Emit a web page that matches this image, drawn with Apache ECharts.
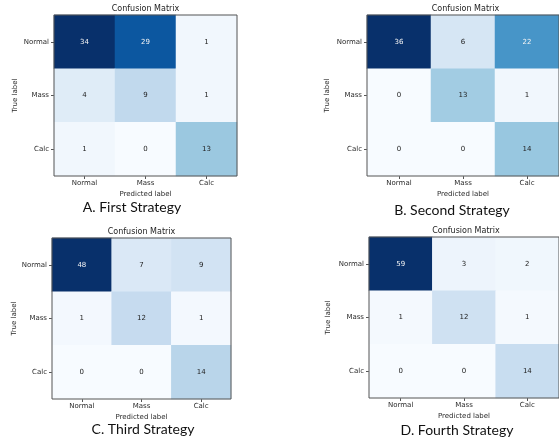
<!DOCTYPE html>
<html>
<head>
<meta charset="utf-8">
<script src="https://cdn.jsdelivr.net/npm/echarts@6/dist/echarts.min.js"></script>
<style>
  html, body { margin: 0; padding: 0; background: #fff; }
  #chart { width: 559px; height: 441px; }
</style>
</head>
<body>
<div id="chart"></div>
<script>
// Class labels (rows = true label, columns = predicted label)
const predictedLabels = ['Normal', 'Mass', 'Calc'];
const trueLabels = ['Normal', 'Mass', 'Calc'];

// Confusion matrices, one per training strategy (rows: true Normal, Mass, Calc)
const firstStrategy  = [[34, 29, 1], [4, 9, 1], [1, 0, 13]];
const secondStrategy = [[36, 6, 22], [0, 13, 1], [0, 0, 14]];
const thirdStrategy  = [[48, 7, 9], [1, 12, 1], [0, 0, 14]];
const fourthStrategy = [[59, 3, 2], [1, 12, 1], [0, 0, 14]];

const captions = ['A. First Strategy', 'B. Second Strategy', 'C. Third Strategy', 'D. Fourth Strategy'];
const matrices = [firstStrategy, secondStrategy, thirdStrategy, fourthStrategy];

// matplotlib "Blues" colormap stops
const blues = ['#f7fbff', '#deebf7', '#c6dbef', '#9ecae1', '#6baed6', '#4292c6', '#2171b5', '#08519c', '#08306b'];

// Panel frames (plot area of each matrix)
const panels = [
  { left: 54,  top: 15,  width: 183, height: 161, nameGap: 35, capX: 132, capY: 207 },
  { left: 367, top: 15,  width: 197, height: 161, nameGap: 36, capX: 452, capY: 210 },
  { left: 52,  top: 238, width: 179, height: 161, nameGap: 33, capX: 143, capY: 429 },
  { left: 369, top: 237, width: 194, height: 161, nameGap: 37, capX: 457, capY: 430 }
];

const tickFont = 'DejaVu Sans';
const axisGray = '#555';
const textGray = '#2a2a2a';

const grid = [], xAxis = [], yAxis = [], series = [], visualMap = [], graphic = [];

panels.forEach((p, i) => {
  const m = matrices[i];
  const maxVal = Math.max(...m.flat());
  const cells = [];
  m.forEach((row, r) => row.forEach((v, c) => cells.push([c, r, v])));

  grid.push({
    left: p.left, top: p.top, width: p.width, height: p.height,
    show: true, borderColor: axisGray, borderWidth: 1, backgroundColor: 'transparent', z: 5
  });

  xAxis.push({
    type: 'category', gridIndex: i, data: predictedLabels, position: 'bottom',
    axisLine: { show: false },
    axisTick: { show: true, alignWithLabel: true, length: 3, lineStyle: { color: axisGray } },
    axisLabel: { fontFamily: tickFont, fontSize: 7, color: textGray, margin: 4 },
    splitLine: { show: false },
    name: 'Predicted label', nameLocation: 'middle', nameGap: 15,
    nameTextStyle: { fontFamily: tickFont, fontSize: 7, color: textGray }
  });

  yAxis.push({
    type: 'category', gridIndex: i, data: trueLabels, inverse: true,
    axisLine: { show: false },
    axisTick: { show: true, alignWithLabel: true, length: 3, lineStyle: { color: axisGray } },
    axisLabel: { fontFamily: tickFont, fontSize: 7, color: textGray, margin: 5 },
    splitLine: { show: false },
    name: 'True label', nameLocation: 'middle', nameGap: p.nameGap, nameRotate: 90,
    nameTextStyle: { fontFamily: tickFont, fontSize: 7, color: textGray }
  });

  visualMap.push({
    show: false, seriesIndex: i, min: 0, max: maxVal, dimension: 2,
    inRange: { color: blues }
  });

  series.push({
    type: 'heatmap', xAxisIndex: i, yAxisIndex: i,
    // white numbers on the dark half of the scale
    data: cells.map(d => ({
      value: d,
      label: { color: d[2] > maxVal / 2 ? '#f4f4f4' : '#222' }
    })),
    itemStyle: { borderWidth: 0 },
    label: {
      show: true, fontFamily: tickFont, fontSize: 7,
      formatter: (d) => String(d.value[2])
    },
    emphasis: { disabled: true }
  });

  graphic.push({
    type: 'text', x: p.left + p.width / 2, y: p.top - 6,
    style: { text: 'Confusion Matrix', fill: '#222', font: '8px "DejaVu Sans"', textAlign: 'center', textVerticalAlign: 'middle' }
  });
  graphic.push({
    type: 'text', x: p.capX, y: p.capY,
    style: { text: captions[i], fill: '#111', font: '14px Lato', textAlign: 'center', textVerticalAlign: 'middle' }
  });
});

const chart = echarts.init(document.getElementById('chart'), null, { renderer: 'canvas' });
chart.setOption({
  backgroundColor: '#fff',
  animation: false,
  grid, xAxis, yAxis, visualMap, series, graphic
});
</script>
</body>
</html>
